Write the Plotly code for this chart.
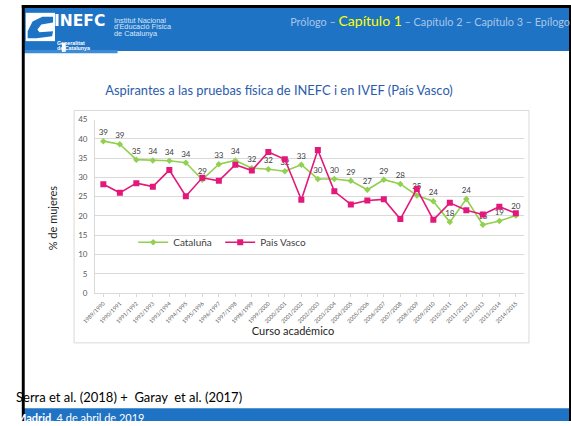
import plotly.graph_objects as go

W, H = 571, 426

cursos = ["1989/1990", "1990/1991", "1991/1992", "1992/1993", "1993/1994", "1994/1995",
          "1995/1996", "1996/1997", "1997/1998", "1998/1999", "1999/2000", "2000/2001",
          "2001/2002", "2002/2003", "2003/2004", "2004/2005", "2005/2006", "2006/2007",
          "2007/2008", "2008/2009", "2009/2010", "2010/2011", "2011/2012", "2012/2013",
          "2013/2014", "2014/2015"]
cataluna = [39.4, 38.6, 34.6, 34.4, 34.3, 33.8, 29.4, 33.4, 34.4, 32.4, 32.1, 31.6, 33.3,
            29.6, 29.6, 29.1, 26.8, 29.4, 28.3, 25.3, 23.8, 18.4, 24.4, 17.7, 18.7, 20.1]
pais_vasco = [28.2, 26.0, 28.5, 27.6, 31.9, 25.1, 29.9, 29.1, 33.3, 31.8, 36.6, 34.7, 24.2,
              37.1, 26.4, 23.0, 24.0, 24.3, 19.2, 27.0, 19.0, 23.4, 21.5, 20.4, 22.4, 20.7]
y_ticks = [0, 5, 10, 15, 20, 25, 30, 35, 40, 45]

FONT = "Lato, 'Open Sans', sans-serif"
ARIAL = "'Liberation Sans', Arial, sans-serif"
BLUE = "#1f73c4"
GREEN = "#92d050"
PINK = "#e3187b"


def px(x):
    return x / W


def py(y):
    return 1 - y / H


fig = go.Figure()
fig.add_trace(go.Scatter(
    x=cursos, y=cataluna, name="Cataluña", mode="lines+markers+text",
    line=dict(color=GREEN, width=1.6),
    marker=dict(symbol="diamond", size=5, color=GREEN),
    texttemplate="%{y:.0f}", textposition="top center",
    textfont=dict(size=8, color="#404040", family=FONT),
))
fig.add_trace(go.Scatter(
    x=cursos, y=pais_vasco, name="Pais Vasco", mode="lines+markers",
    line=dict(color=PINK, width=1.6),
    marker=dict(symbol="square", size=6, color=PINK),
))

shapes = []
# header bar
shapes.append(dict(type="rect", xref="paper", yref="paper", x0=px(11), x1=px(571), y0=py(47), y1=py(3),
                   fillcolor=BLUE, line=dict(width=0), layer="below"))
shapes.append(dict(type="rect", xref="paper", yref="paper", x0=px(11), x1=px(107), y0=py(49.5), y1=py(46),
                   fillcolor="#3d8ad6", line=dict(width=0), layer="below"))
# footer bar
shapes.append(dict(type="rect", xref="paper", yref="paper", x0=px(11), x1=px(571), y0=py(426), y1=py(413),
                   fillcolor=BLUE, line=dict(width=0), layer="below"))
# black frame
shapes.append(dict(type="rect", xref="paper", yref="paper", x0=px(9), x1=px(12), y0=py(426), y1=py(0),
                   fillcolor="black", line=dict(width=0)))
shapes.append(dict(type="rect", xref="paper", yref="paper", x0=px(9), x1=px(571), y0=py(3), y1=py(0),
                   fillcolor="black", line=dict(width=0)))
shapes.append(dict(type="rect", xref="paper", yref="paper", x0=px(569), x1=px(571), y0=py(426), y1=py(0),
                   fillcolor="black", line=dict(width=0)))
# logo
shapes.append(dict(type="rect", xref="paper", yref="paper", x0=px(13), x1=px(43), y0=py(37), y1=py(8),
                   fillcolor="white", line=dict(width=0)))
swoosh = [(41, 12), (30, 12), (20, 17), (15, 27), (15, 34), (24, 34), (40, 32), (41, 27), (27, 28),
          (25, 25), (29, 20), (41, 18)]
path = "M " + " L ".join(f"{px(a):.5f},{py(b):.5f}" for a, b in swoosh) + " Z"
shapes.append(dict(type="path", xref="paper", yref="paper", path=path, fillcolor=BLUE, line=dict(width=0)))
shapes.append(dict(type="rect", xref="paper", yref="paper", x0=px(50), x1=px(54), y0=py(48), y1=py(39),
                   fillcolor="white", line=dict(width=0)))
# chart border
shapes.append(dict(type="rect", xref="paper", yref="paper", x0=px(62.5), x1=px(528), y0=py(346), y1=py(108),
                   fillcolor="rgba(0,0,0,0)", line=dict(width=1, color="#d9d9d9"), layer="below"))


def ann(x, y, text, anchor="center", width=200, **kw):
    d = dict(xref="paper", yref="paper", x=px(x), y=py(y), text=text, showarrow=False,
             xanchor=anchor, align=anchor, width=width, yanchor="middle",
             borderpad=0, borderwidth=0)
    d.update(kw)
    return d


annotations = [
    ann(42, 16, "<b>INEFC</b>", anchor="left", width=70,
        font=dict(size=15.5, color="white", family="DejaVu Sans")),
    ann(103, 16, "Institut Nacional", anchor="left", width=90,
        font=dict(size=7.3, color="#dbe8f7", family=ARIAL)),
    ann(103, 22.5, "d'Educació Física", anchor="left", width=90,
        font=dict(size=7.3, color="#dbe8f7", family=ARIAL)),
    ann(103, 29, "de Catalunya", anchor="left", width=90,
        font=dict(size=7.3, color="#dbe8f7", family=ARIAL)),
    ann(45, 39, "<b>Generalitat</b>", anchor="left", width=40,
        font=dict(size=5.3, color="white", family=ARIAL)),
    ann(45, 44.5, "<b>de Catalunya</b>", anchor="left", width=40,
        font=dict(size=5.3, color="white", family=ARIAL)),
    ann(570, 16,
        "Prólogo – <span style='font-size:14px;color:#ffff00'>Capítulo 1</span> – Capítulo 2 – Capítulo 3 – Epílogo",
        anchor="right", width=330, font=dict(size=10.8, color="#a9c6ea", family=FONT)),
    ann(272.5, 87, "Aspirantes a las pruebas física de INEFC i en IVEF (País Vasco)", width=420,
        font=dict(size=12.9, color="#2b5cab", family=FONT)),
    ann(41, 218, "% de mujeres", textangle=-90, width=120,
        font=dict(size=11, color="#262626", family=FONT)),
    ann(287, 333, "Curso académico", width=160,
        font=dict(size=11, color="#262626", family=FONT)),
    ann(3, 401, "Serra et al. (2018) +  Garay  et al. (2017)", anchor="left", width=300,
        font=dict(size=13, color="black", family=FONT)),
    ann(3, 422, "<b>Madrid</b>, 4 de abril de 2019", anchor="left", width=200,
        font=dict(size=11, color="white", family=FONT)),
]

fig.update_layout(
    width=W, height=H, margin=dict(l=0, r=0, t=0, b=0),
    paper_bgcolor="white", plot_bgcolor="white",
    shapes=shapes, annotations=annotations,
    showlegend=True,
    legend=dict(orientation="h", x=px(123), y=py(243), xanchor="left", yanchor="middle",
                font=dict(size=10, color="#404040", family=FONT), bgcolor="rgba(0,0,0,0)",
                itemwidth=30, tracegroupgap=0, entrywidth=42),
    xaxis=dict(domain=[px(84), px(523)], type="category", range=[-0.5, 25.5], tickangle=-45,
               tickfont=dict(size=5.5, color="#595959", family=FONT),
               showgrid=False, showline=True, linecolor="#d9d9d9", linewidth=1,
               ticks="outside", ticklen=3, tickcolor="#d9d9d9", ticklabelstandoff=1),
    yaxis=dict(domain=[py(295), py(117.3)], range=[0, 45], tickvals=y_ticks,
               tickfont=dict(size=8, color="#595959", family=FONT),
               showgrid=True, gridcolor="#d9d9d9", gridwidth=1, zeroline=False,
               showline=True, linecolor="#d9d9d9", linewidth=1, ticklabelstandoff=5),
)

fig.write_html("out.html", config={"displayModeBar": False},
               post_script="document.body.style.margin='0';")
